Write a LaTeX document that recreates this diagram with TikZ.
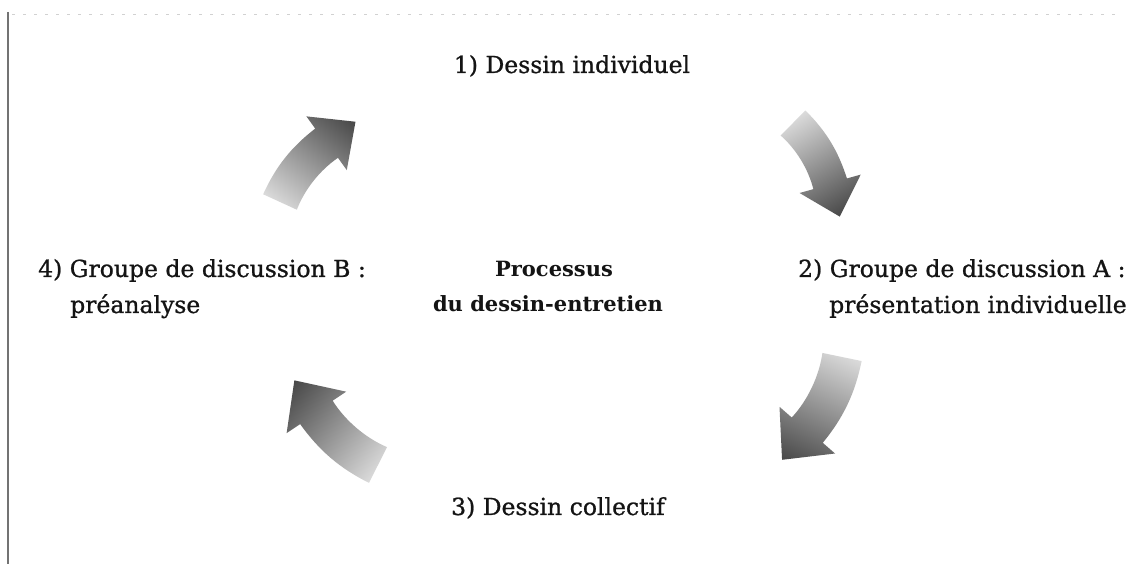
\documentclass[tikz,border=0pt]{standalone}
\usepackage{fontspec}
\setmainfont{DejaVu Serif}
\newfontfamily\labelfont[FakeBold=0.9]{DejaVu Serif}
\begin{document}
\begin{tikzpicture}[x=1pt,y=1pt,
  lbl/.style={inner sep=0pt, font=\labelfont\fontsize{23.5}{28}\selectfont, text=black!92},
  ttl/.style={inner sep=0pt, font=\fontsize{21}{26}\selectfont\bfseries, text=black!92},
  cyclearrow/.style={left color=black!14, middle color=black!62, right color=black!72, draw=none}]
% page frame
\useasboundingbox (0,0) rectangle (1135,564);
\fill[white] (0,0) rectangle (1135,564);
\coordinate (frameTop) at (8,552);
\coordinate (frameBot) at (8,0);
\coordinate (rulerL) at (12,549);
\coordinate (rulerR) at (1122,549);
\draw[black!55, line width=1.3pt] (frameTop) -- (frameBot);
\draw[black!18, line width=1pt, dash pattern=on 3pt off 8pt] (rulerL) -- (rulerR);

% curved arrow shape, tail at the origin, pointing along +x
\def\cyclearrowpath{(4.4,-18) .. controls (25,-11.5) and (50,-11.5) .. (70.6,-18)
  -- (66.5,-32.5) -- (109.8,-9.3) -- (83.5,32.5) -- (79.4,18)
  .. controls (50,25.3) and (25,25.3) .. (-4.4,18) -- cycle}

\begin{scope}[transform canvas={shift={(280pt,362pt)}, rotate=51.6}]
  \shade[cyclearrow] \cyclearrowpath;
\end{scope}
\begin{scope}[transform canvas={shift={(793pt,441pt)}, rotate=-58.6, scale=0.95}]
  \shade[cyclearrow] \cyclearrowpath;
\end{scope}
\begin{scope}[transform canvas={shift={(842pt,207pt)}, rotate=-115.4, scale=1.08}]
  \shade[cyclearrow] \cyclearrowpath;
\end{scope}
\begin{scope}[transform canvas={shift={(378pt,99pt)}, rotate=139.5, scale=1.08}]
  \shade[cyclearrow] \cyclearrowpath;
\end{scope}

% stage labels
\node[lbl, anchor=base] (s1) at (572,491) {1) Dessin individuel};
\node[lbl, anchor=base west] (s2a) at (798,287) {2) Groupe de discussion A :};
\node[lbl, anchor=base west] (s2b) at (829,251) {présentation individuelle};
\node[lbl, anchor=base] (s3) at (558,49) {3) Dessin collectif};
\node[lbl, anchor=base west] (s4a) at (38,287) {4) Groupe de discussion B :};
\node[lbl, anchor=base west] (s4b) at (70,251) {préanalyse};

% centre title
\node[ttl, anchor=base] (c1) at (554,287) {Processus};
\node[ttl, anchor=base] (c2) at (548,252) {du dessin-entretien};
\end{tikzpicture}
\end{document}
